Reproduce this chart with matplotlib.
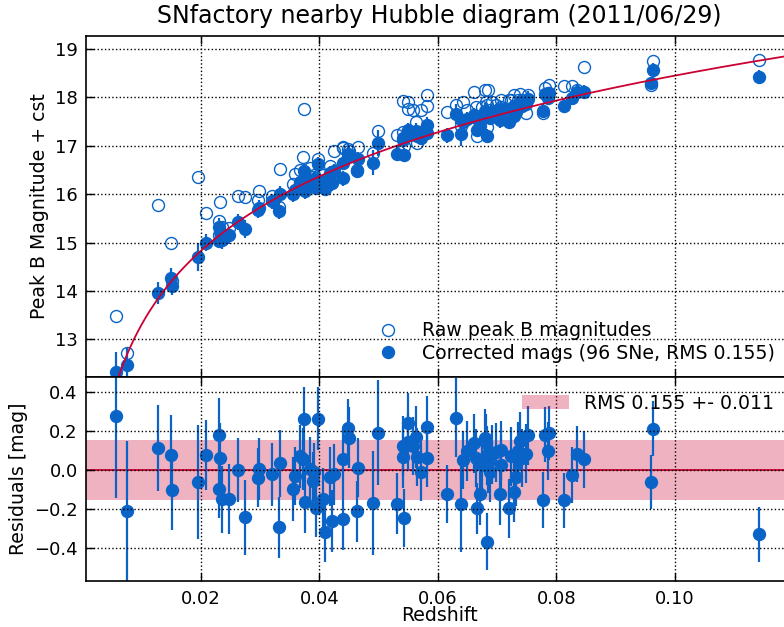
import numpy as np
import matplotlib
matplotlib.use('Agg')
from matplotlib import pyplot as plt

# redshift of each SN
z = [0.00560, 0.00751, 0.01279, 0.01494, 0.01511, 0.01944, 0.02084, 0.02309, 0.02321, 0.02299,
     0.02359, 0.02473, 0.02619, 0.02738, 0.02979, 0.02967, 0.03203, 0.03311, 0.03333, 0.03558,
     0.03586, 0.03671, 0.03716, 0.03738, 0.03760, 0.03840, 0.03895, 0.03912, 0.03941, 0.03975,
     0.04064, 0.04098, 0.04177, 0.04245, 0.04216, 0.04402, 0.04392, 0.04476, 0.04498, 0.04638,
     0.04655, 0.04898, 0.04992, 0.05313, 0.05404, 0.05414, 0.05431, 0.05489, 0.05486, 0.05583,
     0.05624, 0.05641, 0.05713, 0.05819, 0.05822, 0.06152, 0.06304, 0.06388, 0.06427, 0.06489,
     0.06613, 0.06636, 0.06658, 0.06709, 0.06737, 0.06793, 0.06810, 0.06832, 0.06849, 0.06878,
     0.06822, 0.06916, 0.06974, 0.07063, 0.07058, 0.07051, 0.07203, 0.07232, 0.07288, 0.07311,
     0.07355, 0.07384, 0.07413, 0.07480, 0.07524, 0.07777, 0.07811, 0.07873, 0.07861, 0.08132,
     0.08267, 0.08341, 0.08459, 0.09590, 0.09634, 0.11423]

# Hubble residuals of corrected mags [mag]
resid = [0.276, -0.210, 0.112, 0.078, -0.105, -0.061, 0.075, 0.177, 0.061, -0.097,
         -0.150, -0.150, 0.000, -0.243, 0.004, -0.039, -0.022, -0.294, 0.034, -0.097,
         -0.031, 0.070, 0.055, 0.259, -0.163, 0.007, -0.058, -0.013, -0.197, 0.262,
         -0.150, -0.316, -0.034, -0.022, -0.260, 0.058, -0.250, 0.216, 0.165, -0.212,
         0.012, -0.170, 0.190, -0.172, 0.066, 0.122, -0.245, 0.242, 0.143, 0.122,
         0.168, 0.066, -0.010, 0.219, 0.061, -0.124, 0.267, -0.173, 0.050, 0.095,
         0.135, 0.061, -0.197, -0.124, 0.024, 0.163, 0.135, -0.367, 0.033, -0.013,
         0.075, 0.079, 0.089, 0.100, 0.027, -0.124, -0.197, 0.070, -0.115, -0.036,
         0.095, 0.146, 0.061, 0.082, 0.177, -0.155, 0.180, 0.189, 0.095, -0.155,
         -0.027, 0.079, 0.055, -0.061, 0.211, -0.330]

# errors [mag]
err = [0.42, 0.36, 0.22, 0.20, 0.20, 0.29, 0.18, 0.19, 0.18, 0.15,
       0.17, 0.18, 0.165, 0.19, 0.16, 0.15, 0.16, 0.157, 0.17, 0.163,
       0.15, 0.16, 0.16, 0.165, 0.157, 0.16, 0.15, 0.15, 0.145, 0.16,
       0.16, 0.153, 0.15, 0.155, 0.157, 0.15, 0.16, 0.147, 0.155, 0.155,
       0.15, 0.265, 0.268, 0.155, 0.157, 0.155, 0.149, 0.15, 0.15, 0.15,
       0.16, 0.15, 0.15, 0.16, 0.15, 0.149, 0.20, 0.247, 0.15, 0.153,
       0.15, 0.15, 0.13, 0.16, 0.15, 0.15, 0.15, 0.145, 0.15, 0.15,
       0.15, 0.15, 0.15, 0.15, 0.15, 0.155, 0.153, 0.15, 0.153, 0.15,
       0.15, 0.15, 0.15, 0.15, 0.15, 0.143, 0.14, 0.136, 0.149, 0.14,
       0.142, 0.143, 0.145, 0.138, 0.142, 0.14]

# raw peak B magnitudes
raw = [13.48, 12.72, 15.77, 14.99, 14.20, 16.35, 15.61, 15.44, 15.83, 15.15,
       15.32, 15.30, 15.96, 15.95, 16.06, 15.87, 15.97, 15.73, 16.52, 16.20,
       16.42, 16.49, 16.77, 17.76, 16.25, 16.55, 16.35, 16.40, 16.30, 16.73,
       16.40, 16.30, 16.58, 16.89, 16.45, 16.98, 16.96, 16.94, 16.90, 16.49,
       16.98, 16.85, 17.30, 17.22, 17.29, 17.92, 17.00, 17.91, 17.77, 17.75,
       17.50, 17.05, 17.74, 18.05, 17.82, 17.70, 17.84, 17.40, 17.91, 17.75,
       18.12, 17.80, 17.20, 17.60, 17.80, 18.15, 17.90, 17.39, 18.16, 17.75,
       17.85, 17.90, 17.85, 17.95, 17.80, 17.70, 17.94, 17.95, 18.05, 17.85,
       17.95, 18.08, 17.95, 17.68, 18.05, 17.68, 18.20, 18.25, 18.10, 18.23,
       18.23, 18.15, 18.63, 18.25, 18.76, 18.77]

rms, rms_err = 0.155, 0.011
omega_m = 0.27
m_offset = 23.29

z = np.array(z)
resid = np.array(resid)
err = np.array(err)
raw = np.array(raw)

# flat LCDM luminosity distance (c/H0 units)
zg = np.linspace(0, 0.13, 2601)
inv_e = 1.0 / np.sqrt(omega_m * (1 + zg)**3 + 1 - omega_m)
chi = np.concatenate([[0], np.cumsum(0.5 * (inv_e[1:] + inv_e[:-1]) * np.diff(zg))])
dl = (1 + zg) * chi

def model(zz):
    return 5 * np.log10(np.interp(zz, zg[1:], dl[1:])) + m_offset

corr = model(z) + resid
zc = np.linspace(0.002, 0.13, 400)

blue = '#0a64c8'
red = '#cc0033'
fs = 13.6

fig = plt.figure(figsize=(7.84, 6.27), dpi=100)
ax1 = fig.add_axes([0.1097, 0.3995, 0.9024, 0.5431])
ax2 = fig.add_axes([0.1097, 0.0726, 0.9024, 0.3269], sharex=ax1)

ax1.plot(z, raw, 'o', mfc='none', mec=blue, mew=1.0, ms=8.6, label='Raw peak B magnitudes')
ax1.errorbar(z, corr, yerr=err, fmt='none', ecolor=blue, elinewidth=1.6, capsize=0)
ax1.plot(z, corr, 'o', color=blue, mec=blue, ms=8.6,
         label='Corrected mags (%d SNe, RMS %.3f)' % (len(z), rms))
ax1.plot(zc, model(zc), '-', color=red, lw=1.3)
ax1.set_ylim(12.23, 19.27)
ax1.set_ylabel('Peak B Magnitude + cst', fontsize=fs)
ax1.set_title('SNfactory nearby Hubble diagram (2011/06/29)', fontsize=17, pad=9)
ax1.legend(loc='lower right', bbox_to_anchor=(0.998, -0.01), frameon=False,
           numpoints=1, fontsize=fs, labelspacing=0.2)
plt.setp(ax1.get_xticklabels(), visible=False)

ax2.axhspan(-rms, rms, color=red, alpha=0.3, lw=0,
            label='RMS %.3f +- %.3f' % (rms, rms_err))
ax2.axhline(0, color=red, lw=1.3)
ax2.errorbar(z, resid, yerr=err, fmt='o', color=blue, mec=blue, ms=8.6,
             elinewidth=1.6, capsize=0)
ax2.set_ylim(-0.57, 0.477)
ax2.set_yticks([-0.4, -0.2, 0.0, 0.2, 0.4])
ax2.set_xlabel('Redshift', fontsize=fs, labelpad=-1)
ax2.set_ylabel('Residuals [mag]', fontsize=fs)
ax2.legend(loc='upper right', bbox_to_anchor=(0.997, 1.0), frameon=False,
           fontsize=fs, handlelength=2.5)

ax1.set_xlim(0.0006, 0.12)
ax2.set_xticks([0.02, 0.04, 0.06, 0.08, 0.10])

for ax in (ax1, ax2):
    ax.grid(True, color='k', ls=':', lw=1.0)
    ax.set_axisbelow(False)
    ax.tick_params(direction='in', top=True, right=True, length=6, width=1,
                   labelsize=13, pad=6)
    for s in ax.spines.values():
        s.set_linewidth(1.2)

fig.savefig('out.png', dpi=100)
